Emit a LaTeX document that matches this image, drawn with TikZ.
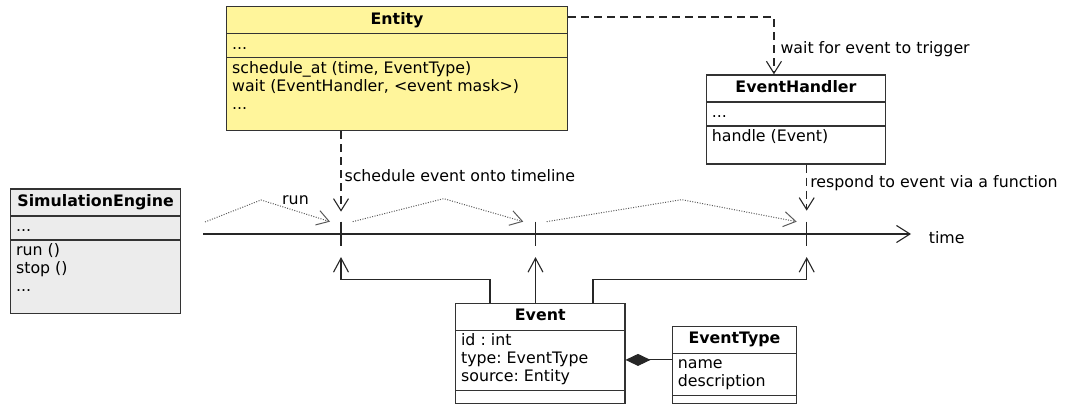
\documentclass[tikz,border=0pt]{standalone}
\usepackage{fontspec}
\setmainfont{DejaVu Sans}
\usepackage{xcolor}
\usepackage{tikz}
\usetikzlibrary{positioning,shapes.multipart,arrows.meta}

\definecolor{entityfill}{RGB}{255,245,155}
\definecolor{enginefill}{RGB}{236,236,236}
\newcommand{\hstrut}{\rule[-6.5pt]{0pt}{21pt}}
\newcommand{\bgap}[1]{\rule[-#1]{0pt}{#1}}
\frenchspacing

\begin{document}
\begin{tikzpicture}[x=1pt, y=-1pt,
                font=\fontsize{15.8}{18}\selectfont,
                umlclass/.style={rectangle split, rectangle split parts=3, draw=black!80,
                    line width=1.2pt, align=left, rectangle split part align={center,left,left},
                    inner xsep=5.5pt, inner ysep=2.4pt, anchor=north west},
                tick/.style={inner sep=0pt, minimum width=0pt, minimum height=24.3pt},
                tickline/.style={draw=black!85, line width=1.2pt},
                dep/.style={draw=black!85, line width=1.1pt, dash pattern=on 8pt off 5pt,
                    -{Straight Barb[length=12pt,width=15pt]}},
                flow/.style={draw=black!85, line width=1.1pt, -{Straight Barb[length=14pt,width=15pt]}},
                runarr/.style={draw=black!65, line width=1pt, dash pattern=on 1pt off 1.5pt,
                    -{Straight Barb[length=12pt,width=15pt]}},
                comp/.style={draw=black!85, line width=1.1pt, {Diamond[length=25pt,width=12pt]}-},
                note/.style={anchor=west, inner xsep=3pt}
            ]
                \useasboundingbox (0,0) rectangle (1065,405);

                % --- CLASSES ---
                \node[umlclass, fill=entityfill, minimum width=341pt] (ent) at (226,6)
                    {\hstrut\textbf{Entity}
                     \nodepart{two}\strut...
                     \nodepart{three}\strut schedule\_at (time, EventType)\\
                     \strut wait (EventHandler, <event mask>)\\
                     \strut...\bgap{18.2pt}};
                \node[umlclass, fill=white, minimum width=179.3pt] (eh) at (705.7,74.3)
                    {\hstrut\textbf{EventHandler}
                     \nodepart{two}\strut...
                     \nodepart{three}\strut handle (Event)\bgap{19.5pt}};
                \node[umlclass, fill=enginefill, minimum width=170pt] (eng) at (10,188.3)
                    {\hstrut\textbf{SimulationEngine}
                     \nodepart{two}\strut...
                     \nodepart{three}\strut run ()\\
                     \strut stop ()\\
                     \strut...\bgap{19pt}};
                \node[umlclass, fill=white, minimum width=169.3pt] (ev) at (455,302.7)
                    {\hstrut\textbf{Event}
                     \nodepart{two}\strut id : int\\
                     \strut type: EventType\\
                     \strut source: Entity
                     \nodepart{three}\rule{0pt}{7pt}};
                \node[umlclass, fill=white, minimum width=124.3pt] (et) at (671.7,325.7)
                    {\hstrut\textbf{EventType}
                     \nodepart{two}\strut name\\
                     \strut description
                     \nodepart{three}\rule{0pt}{2pt}};

                % --- TIMELINE ---
                \coordinate (t0) at (203,234);
                \coordinate (t1) at (911,234);
                \draw[flow, -{Straight Barb[length=13.5pt,width=17pt]}] (t0) -- (t1)
                    node[right=14pt, yshift=-3.5pt] (tl) {time};
                \node[tick] (k1) at (341,234) {};
                \node[tick] (k2) at (535.5,234) {};
                \node[tick] (k3) at (806.7,234) {};
                \draw[tickline] (k1.north) -- (k1.south);
                \draw[tickline] (k2.north) -- (k2.south);
                \draw[tickline] (k3.north) -- (k3.south);

                % run steps
                \coordinate (r0) at (205,222);
                \draw[runarr] (r0) -- ++(56,-22) -- node[above=2pt] (runlbl) {run} ([xshift=-11pt]k1.north);
                \draw[runarr] ([xshift=11.7pt]k1.north) -- ++(91,-23) -- ([xshift=-12.2pt]k2.north);
                \draw[runarr] ([xshift=11.2pt]k2.north) -- ++(135,-22) -- ([xshift=-10pt]k3.north);

                % --- DEPENDENCIES ---
                \draw[dep, shorten >=10pt] (ent.south -| k1) --
                    node[note, pos=0.49] (schedlbl) {schedule event onto timeline} (k1.north);
                \draw[dep] ([yshift=-11pt]ent.north east) -|
                    node[note, pos=0.78, xshift=3pt] (waitlbl) {wait for event to trigger} ([xshift=-22pt]eh.north);
                \draw[dep, shorten >=11pt] (eh.south -| k3) --
                    node[note, pos=0.32] (resplbl) {respond to event via a function} (k3.north);

                % --- EVENTS ON TIMELINE ---
                \draw[flow, shorten >=10.7pt] ([xshift=-50.3pt]ev.north) -- ++(0,-23) -| (k1.south);
                \draw[flow, shorten >=10.7pt] (ev.north -| k2) -- (k2.south);
                \draw[flow, shorten >=10.7pt] ([xshift=52.7pt]ev.north) -- ++(0,-23) -| (k3.south);
                \draw[comp] ([yshift=-6.6pt]ev.east) -- ([yshift=-6.6pt]ev.east -| et.west);

            \end{tikzpicture}
\end{document}
